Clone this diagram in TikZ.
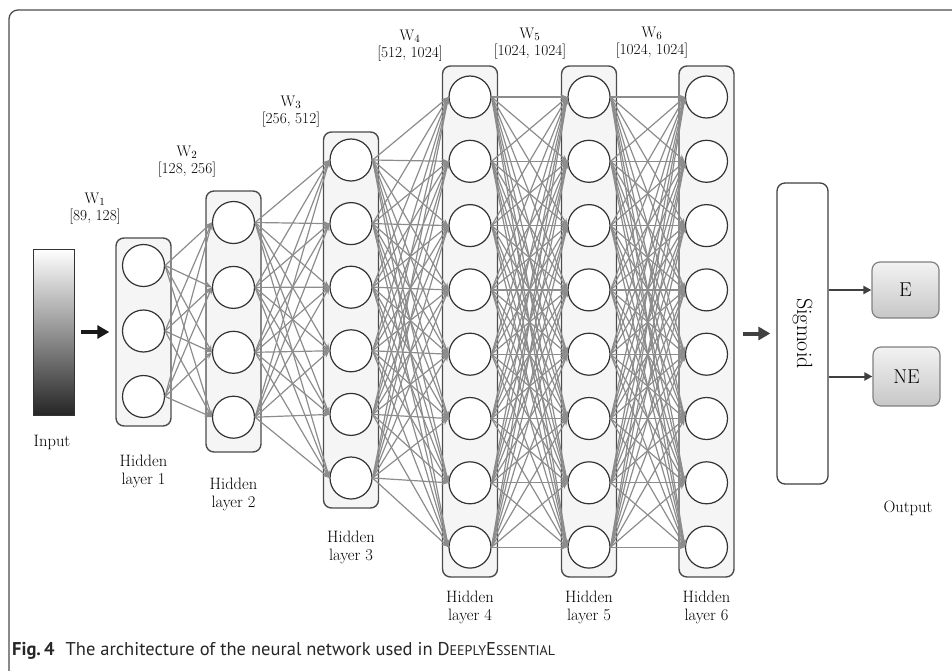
\documentclass[tikz,border=0pt]{standalone}
\usepackage{fontspec}
\newfontfamily\capfont{PT Sans}
\usetikzlibrary{arrows.meta}
\begin{document}
\begin{tikzpicture}[x=1pt,y=-1pt,
    layerbox/.style={draw=black!70,fill=black!4,line width=1.4pt,rounded corners=8pt,minimum width=55pt,inner sep=0pt},
    neuron/.style={circle,draw=black!80,fill=white,line width=1.2pt,minimum size=42pt,inner sep=0pt},
    link/.style={draw=black!45,line width=1.2pt,-{Stealth[length=7pt,width=5.5pt]}},
    fatarrow/.style={line width=4pt,-{Triangle[length=12pt,width=13pt]}},
    outarrow/.style={draw=black!75,line width=2pt,-{Triangle[length=8pt,width=8pt]}},
    lbl/.style={font=\fontsize{16.5}{18}\selectfont,align=center,inner sep=0pt},
    wlbl/.style={font=\fontsize{15.3}{17}\selectfont,align=center,inner sep=0pt},
    outbox/.style={draw=black!50,line width=1.2pt,rounded corners=8pt,top color=black!5,bottom color=black!22,minimum width=67pt,inner sep=0pt,font=\fontsize{20}{22}\selectfont}]
\useasboundingbox (0,0) rectangle (952,671);
\begin{scope}
\clip (0,0) rectangle (952,671);
\draw[draw=black!70,line width=1.3pt,rounded corners=9pt] (9,10) rectangle (990,700);
\end{scope}

\node[draw=black!80,line width=1pt,minimum width=41pt,minimum height=166pt,inner sep=0pt,
      top color=white,middle color=black!15,bottom color=black!85] (inp) at (53.5,332) {};
\node[lbl] (inplbl) at (52,442) {Input};

\foreach \l/\x/\n/\ya/\dy/\ytop/\ybot in {1/143.5/3/265.5/65.5/238/426,2/233.5/4/222.5/64.9/191/452,
    3/351/6/160/63.6/132/508,4/470/8/97/64.3/66/577,5/589/8/97/64.3/66/577,6/706.5/8/97/64.3/66/577}{
  \node[layerbox,minimum height={\ybot-\ytop}] (box\l) at (\x,{(\ytop+\ybot)/2}) {};
  \foreach \k in {1,...,\n}
    \node[neuron] (n\l-\k) at (\x,{\ya+(\k-1)*\dy}) {};
}

\foreach \a/\na/\b/\nb in {1/3/2/4,2/4/3/6,3/6/4/8,4/8/5/8,5/8/6/8}
  \foreach \i in {1,...,\na}
    \foreach \j in {1,...,\nb}
      \draw[link] (n\a-\i.east) -- (n\b-\j.west);

\node[lbl] (h1) at (143.5,471) {Hidden\\layer 1};
\node[lbl] (h2) at (233.5,494) {Hidden\\layer 2};
\node[lbl] (h3) at (351,547) {Hidden\\layer 3};
\node[lbl] (h4) at (470,607) {Hidden\\layer 4};
\node[lbl] (h5) at (589,607) {Hidden\\layer 5};
\node[lbl] (h6) at (706.5,607) {Hidden\\layer 6};

\node[wlbl] (w1) at (95,209) {W$_1$\\{[89, 128]}};
\node[wlbl] (w2) at (187,162) {W$_2$\\{[128, 256]}};
\node[wlbl] (w3) at (291,112) {W$_3$\\{[256, 512]}};
\node[wlbl] (w4) at (410,46) {W$_4$\\{[512, 1024]}};
\node[wlbl] (w5) at (530,44) {W$_5$\\{[1024, 1024]}};
\node[wlbl] (w6) at (652,43) {W$_6$\\{[1024, 1024]}};

\draw[fatarrow,draw=black!90,shorten <=6pt,shorten >=6pt] (inp.east) -- (box1.west);

\node[draw=black!75,line width=1.3pt,rounded corners=8pt,fill=white,minimum width=51pt,
      minimum height=301pt,inner sep=0pt] (sig) at (802.5,333.5) {};
\node[rotate=-90,font=\fontsize{22}{24}\selectfont] (sigtxt) at (sig.center) {Sigmoid};
\draw[fatarrow,draw=black!75,shorten <=8pt,shorten >=6pt] (box6.east |- sig.west) -- (sig.west);

\node[outbox,minimum height=56pt] (oute) at (905.5,290) {E};
\node[outbox,minimum height=59pt] (outne) at (906.5,376.5) {NE};
\draw[outarrow] (sig.east |- oute) -- (oute.west);
\draw[outarrow] (sig.east |- outne) -- (outne.west);
\node[lbl] (outlbl) at (908,508) {Output};

\node[anchor=base west,inner sep=0pt,text=black!85,font=\capfont\fontsize{18.5}{21}\selectfont] (cap) at (12,655)
  {\textbf{Fig.\,4}\hspace{0.6em}The architecture of the neural network used in
   D{\fontsize{14}{16}\selectfont EEPLY}E{\fontsize{14}{16}\selectfont SSENTIAL}};
\end{tikzpicture}
\end{document}
